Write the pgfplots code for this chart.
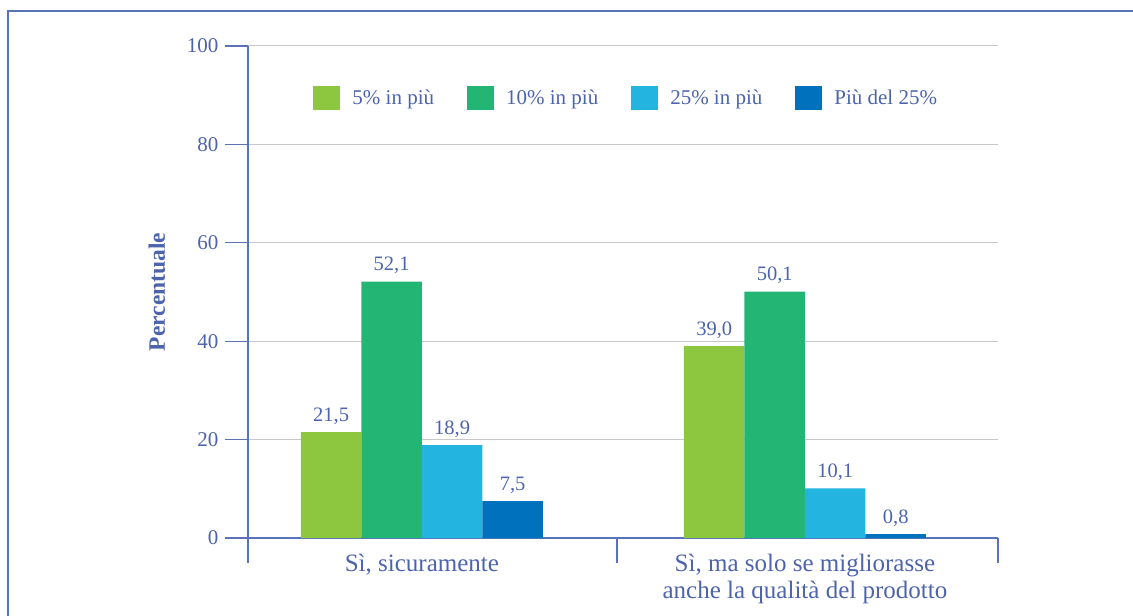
\documentclass[border=0pt]{standalone}
\usepackage{pgfplots}
\pgfplotsset{compat=1.18}
\usepackage{fontspec}
\setmainfont{Liberation Serif}
\definecolor{txt}{HTML}{4D64AD}
\definecolor{axl}{HTML}{5A72B8}
\definecolor{cA}{HTML}{8DC63F}
\definecolor{cB}{HTML}{23B573}
\definecolor{cC}{HTML}{24B4E0}
\definecolor{cD}{HTML}{0071BC}
\definecolor{grd}{HTML}{C8C8C8}
\begin{document}
\begin{tikzpicture}[x=1pt,y=1pt]
\useasboundingbox (-248,-78) rectangle (885,538);
\draw[axl, line width=2pt] (-239.5,-100) -- (-239.5,526.5) -- (900,526.5);
\begin{axis}[
  at={(0,0)}, anchor=south west,
  scale only axis, width=750pt, height=492pt,
  xmin=-0.454, xmax=1.504, ymin=0, ymax=100,
  axis x line=bottom, axis y line=left,
  axis line style={axl, line width=1.3pt, -},
  ybar=0pt, bar width=60.5pt,
  ytick={0,20,40,60,80,100},
  ymajorgrids, grid style={grd, line width=1pt},
  y tick style={axl, line width=1.3pt},
  major tick length=23pt, tick align=outside,
  xtick={0,1},
  x tick style={draw=none},
  xticklabels={Sì{,} sicuramente, {Sì, ma solo se migliorasse\\anche la qualità del prodotto}},
  xticklabel style={align=center, font=\fontsize{25}{27}\selectfont, text=txt, yshift=10pt},
  extra x ticks={-0.454,0.509,1.504},
  extra x tick labels={},
  extra x tick style={x tick style={draw=axl, line width=1.3pt}, major tick length=25pt, grid=none},
  yticklabel style={font=\fontsize{21}{24}\selectfont, text=txt, xshift=-3pt},
  /pgf/number format/assume math mode=true,
  ylabel={\bfseries Percentuale},
  ylabel style={font=\fontsize{23.5}{26}\selectfont, text=txt, yshift=15pt},
  nodes near coords,
  nodes near coords style={font=\fontsize{20.5}{24}\selectfont, text=txt, yshift=4pt,
    /pgf/number format/.cd, fixed, fixed zerofill, precision=1, use comma, assume math mode=true},
  legend style={draw=none, fill=none, at={(0.083,0.894)}, anchor=west,
    legend columns=4, font=\fontsize{21}{24}\selectfont, text=txt,
    /tikz/every odd column/.append style={column sep=10pt},
    /tikz/every even column/.append style={column sep=31pt}},
  legend image code/.code={\fill[#1] (0pt,-12pt) rectangle (27pt,12pt);},
  clip=false,
]
\addplot[fill=cA, draw=none] coordinates {(0,21.5) (1,39.0)};
\addplot[fill=cB, draw=none] coordinates {(0,52.1) (1,50.1)};
\addplot[fill=cC, draw=none] coordinates {(0,18.9) (1,10.1)};
\addplot[fill=cD, draw=none] coordinates {(0,7.5) (1,0.8)};
\legend{5\% in più, 10\% in più, 25\% in più, Più del 25\%}
\end{axis}
\end{tikzpicture}
\end{document}
